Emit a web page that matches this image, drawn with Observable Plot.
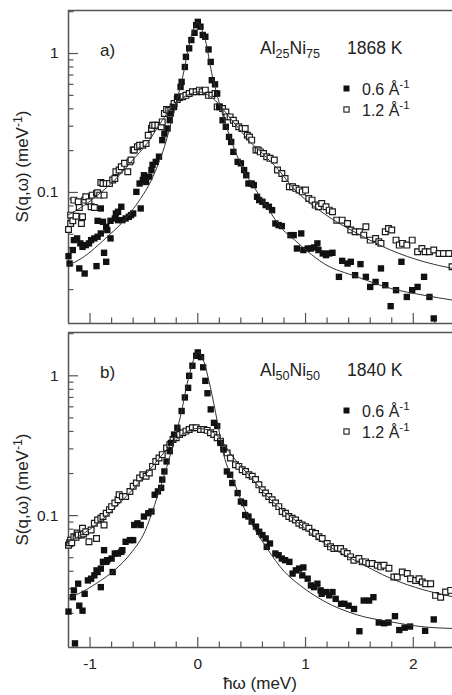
<!DOCTYPE html>
<html>
<head>
<meta charset="utf-8">
<script src="https://cdn.jsdelivr.net/npm/d3@7"></script>
<script src="https://cdn.jsdelivr.net/npm/@observablehq/plot@0.6"></script>
<style>
  body { margin: 0; background: #fff; }
  #chart { width: 452px; height: 695px; position: relative; background: #fff; }
  #chart svg { display: block; }
</style>
</head>
<body>
<div id="chart"></div>
<script>
// ---------- axes / tick data ----------
const xDomain = [-1.2, 2.364];
const yDomain = [0.0114, 2.04];
const xMajorTicks = [-1, 0, 1, 2];
const xTickLabels = ["-1", "0", "1", "2"];
const xMinorTicks = [-0.8, -0.6, -0.4, -0.2, 0.2, 0.4, 0.6, 0.8, 1.2, 1.4, 1.6, 1.8, 2.2];
const yMajorTicks = [0.1, 1];
const yTickLabels = ["0.1", "1"];
const yMinorTicks = [0.02, 0.03, 0.04, 0.05, 0.06, 0.07, 0.08, 0.09, 0.2, 0.3, 0.4, 0.5, 0.6, 0.7, 0.8, 0.9, 2];

// ---------- panel a) Al25Ni75 1868 K ----------
const a06 = [[-1.20,0.0348],[-1.19,0.0308],[-1.16,0.0385],[-1.15,0.0454],[-1.12,0.0467],[-1.10,0.0284],[-1.09,0.043],[-1.07,0.0406],[-1.05,0.0261],[-1.04,0.0418],[-1.01,0.043],[-0.99,0.0454],[-0.96,0.0467],[-0.94,0.0295],[-0.93,0.048],[-0.93,0.0625],[-0.90,0.0507],[-0.90,0.0767],[-0.88,0.0615],[-0.87,0.0368],[-0.85,0.0317],[-0.85,0.0566],[-0.84,0.0536],[-0.81,0.0467],[-0.81,0.0625],[-0.77,0.065],[-0.76,0.0706],[-0.74,0.0726],[-0.74,0.0632],[-0.71,0.0789],[-0.70,0.0632],[-0.67,0.065],[-0.64,0.0668],[-0.62,0.0687],[-0.60,0.0706],[-0.57,0.101],[-0.54,0.116],[-0.53,0.0767],[-0.51,0.123],[-0.50,0.133],[-0.48,0.119],[-0.45,0.130],[-0.43,0.145],[-0.42,0.158],[-0.39,0.166],[-0.36,0.181],[-0.33,0.238],[-0.31,0.265],[-0.28,0.289],[-0.26,0.331],[-0.25,0.37],[-0.22,0.413],[-0.19,0.488],[-0.16,0.575],[-0.15,0.625],[-0.12,0.80],[-0.11,0.946],[-0.08,1.09],[-0.06,1.25],[-0.03,1.41],[-0.015,1.60],[0.0,1.69],[0.025,1.56],[0.046,1.36],[0.07,1.32],[0.10,1.07],[0.12,0.87],[0.13,0.643],[0.16,0.60],[0.18,0.515],[0.20,0.413],[0.23,0.331],[0.26,0.297],[0.29,0.251],[0.31,0.231],[0.33,0.196],[0.37,0.166],[0.40,0.162],[0.43,0.145],[0.45,0.133],[0.47,0.116],[0.50,0.116],[0.52,0.113],[0.55,0.0931],[0.57,0.0881],[0.60,0.0857],[0.63,0.0811],[0.66,0.0789],[0.69,0.0746],[0.72,0.0598],[0.75,0.0582],[0.78,0.0573],[0.86,0.0493],[0.89,0.0493],[0.92,0.0395],[0.96,0.0507],[0.98,0.0385],[1.02,0.0395],[1.05,0.0395],[1.08,0.0402],[1.11,0.043],[1.12,0.0385],[1.16,0.0364],[1.19,0.0354],[1.22,0.0364],[1.25,0.0368],[1.31,0.0247],[1.34,0.0322],[1.39,0.0308],[1.42,0.0317],[1.46,0.0254],[1.51,0.0305],[1.56,0.0247],[1.60,0.0209],[1.65,0.0227],[1.70,0.0284],[1.74,0.0215],[1.79,0.0152],[1.84,0.0198],[1.89,0.0317],[1.94,0.0177],[1.99,0.0198],[2.04,0.0209],[2.10,0.0247],[2.15,0.0177],[2.19,0.0124]];

const a12 = [[-1.20,0.0542],[-1.18,0.0598],[-1.18,0.0687],[-1.16,0.0625],[-1.15,0.0881],[-1.13,0.0675],[-1.11,0.0857],[-1.10,0.078],[-1.08,0.0598],[-1.07,0.0668],[-1.05,0.0881],[-1.04,0.0931],[-1.01,0.0857],[-0.99,0.0789],[-0.98,0.0957],[-0.96,0.078],[-0.94,0.0985],[-0.93,0.0995],[-0.91,0.0957],[-0.90,0.118],[-0.88,0.116],[-0.87,0.0957],[-0.85,0.116],[-0.82,0.116],[-0.79,0.123],[-0.77,0.126],[-0.76,0.141],[-0.73,0.145],[-0.71,0.153],[-0.68,0.162],[-0.65,0.141],[-0.63,0.166],[-0.62,0.171],[-0.60,0.202],[-0.59,0.202],[-0.56,0.213],[-0.54,0.219],[-0.51,0.219],[-0.48,0.225],[-0.46,0.258],[-0.43,0.289],[-0.42,0.305],[-0.40,0.305],[-0.37,0.305],[-0.34,0.297],[-0.33,0.322],[-0.31,0.37],[-0.29,0.395],[-0.27,0.391],[-0.25,0.391],[-0.23,0.413],[-0.22,0.437],[-0.19,0.467],[-0.17,0.483],[-0.14,0.488],[-0.11,0.50],[-0.08,0.515],[-0.05,0.53],[-0.015,0.53],[0.015,0.545],[0.04,0.53],[0.07,0.545],[0.10,0.50],[0.13,0.50],[0.16,0.515],[0.18,0.413],[0.20,0.413],[0.23,0.402],[0.26,0.38],[0.27,0.35],[0.30,0.35],[0.33,0.331],[0.35,0.313],[0.38,0.297],[0.41,0.289],[0.44,0.289],[0.46,0.258],[0.48,0.251],[0.50,0.238],[0.54,0.202],[0.56,0.202],[0.58,0.196],[0.61,0.191],[0.64,0.181],[0.67,0.176],[0.71,0.171],[0.74,0.145],[0.78,0.137],[0.81,0.126],[0.85,0.110],[0.88,0.110],[0.91,0.107],[0.94,0.104],[0.97,0.101],[1.00,0.104],[1.03,0.0906],[1.06,0.0881],[1.09,0.0811],[1.12,0.0789],[1.15,0.0834],[1.19,0.0789],[1.22,0.0746],[1.25,0.0726],[1.29,0.0632],[1.34,0.0632],[1.39,0.0598],[1.42,0.0536],[1.46,0.0521],[1.50,0.0521],[1.54,0.0493],[1.56,0.0566],[1.60,0.0454],[1.65,0.0467],[1.68,0.0442],[1.70,0.043],[1.74,0.0521],[1.77,0.0551],[1.80,0.0536],[1.84,0.0454],[1.87,0.0418],[1.90,0.043],[1.94,0.0418],[1.99,0.0454],[2.04,0.0374],[2.08,0.0395],[2.11,0.0374],[2.15,0.0374],[2.19,0.0385],[2.24,0.0364],[2.28,0.0364],[2.33,0.0364],[2.36,0.0292]];

const aFit06 = [[-1.20,0.030],[-1.08,0.0335],[-0.96,0.0395],[-0.84,0.048],[-0.71,0.0598],[-0.62,0.0726],[-0.53,0.0906],[-0.43,0.123],[-0.37,0.158],[-0.31,0.213],[-0.25,0.313],[-0.19,0.475],[-0.14,0.68],[-0.09,1.06],[-0.05,1.43],[0,1.69],[0.025,1.56],[0.07,1.25],[0.13,0.718],[0.21,0.413],[0.32,0.225],[0.41,0.153],[0.54,0.104],[0.66,0.0746],[0.78,0.055],[0.91,0.0447],[1.02,0.0376],[1.17,0.0308],[1.48,0.0247],[1.79,0.0204],[2.10,0.0182],[2.364,0.0168]];

const aFit12 = [[-1.20,0.069],[-1.05,0.0811],[-0.93,0.0957],[-0.77,0.123],[-0.62,0.166],[-0.46,0.231],[-0.34,0.322],[-0.25,0.402],[-0.15,0.475],[-0.06,0.515],[0,0.53],[0.07,0.515],[0.16,0.461],[0.23,0.402],[0.29,0.35],[0.38,0.289],[0.47,0.238],[0.60,0.191],[0.75,0.145],[0.88,0.109],[1.17,0.0706],[1.48,0.0507],[1.79,0.0385],[2.10,0.0317],[2.364,0.0284]];

// ---------- panel b) Al50Ni50 1840 K ----------
const b06 = [[-1.20,0.0206],[-1.16,0.0261],[-1.15,0.0292],[-1.14,0.0122],[-1.11,0.0326],[-1.10,0.0227],[-1.07,0.0209],[-1.05,0.0276],[-1.02,0.0344],[-0.99,0.0354],[-0.96,0.0374],[-0.94,0.0406],[-0.93,0.0395],[-0.90,0.0308],[-0.90,0.0418],[-0.88,0.0467],[-0.87,0.0566],[-0.85,0.0467],[-0.84,0.048],[-0.80,0.0493],[-0.79,0.0395],[-0.77,0.0536],[-0.74,0.0536],[-0.71,0.0551],[-0.70,0.0566],[-0.67,0.065],[-0.63,0.0668],[-0.60,0.0668],[-0.59,0.0857],[-0.56,0.0881],[-0.53,0.0857],[-0.50,0.0985],[-0.46,0.104],[-0.43,0.107],[-0.40,0.141],[-0.37,0.149],[-0.34,0.158],[-0.33,0.181],[-0.31,0.207],[-0.29,0.244],[-0.26,0.289],[-0.25,0.331],[-0.22,0.38],[-0.19,0.425],[-0.15,0.56],[-0.12,0.70],[-0.09,0.82],[-0.08,1.0],[-0.05,1.18],[-0.015,1.39],[0.0,1.47],[0.03,1.36],[0.05,1.15],[0.07,0.92],[0.09,0.75],[0.12,0.575],[0.15,0.461],[0.18,0.437],[0.21,0.331],[0.24,0.297],[0.27,0.207],[0.30,0.196],[0.32,0.171],[0.37,0.145],[0.40,0.126],[0.43,0.123],[0.44,0.101],[0.47,0.0985],[0.50,0.0906],[0.54,0.0834],[0.57,0.0767],[0.60,0.0726],[0.63,0.0687],[0.64,0.0598],[0.67,0.0632],[0.72,0.0536],[0.75,0.0521],[0.78,0.0493],[0.81,0.048],[0.85,0.0467],[0.88,0.0385],[0.91,0.0406],[0.94,0.0418],[0.97,0.0374],[0.98,0.0426],[1.02,0.0354],[1.05,0.0317],[1.08,0.0308],[1.11,0.0326],[1.14,0.0292],[1.15,0.0276],[1.19,0.0284],[1.22,0.0269],[1.25,0.0284],[1.28,0.0254],[1.33,0.0234],[1.36,0.0234],[1.40,0.0227],[1.45,0.0215],[1.50,0.0149],[1.54,0.0247],[1.59,0.0247],[1.63,0.0261],[1.68,0.0172],[1.73,0.017],[1.77,0.0172],[1.83,0.0191],[1.87,0.0152],[1.92,0.0158],[1.97,0.0161],[2.11,0.0150],[2.19,0.0181]];

const b12 = [[-1.20,0.0615],[-1.19,0.064],[-1.18,0.0668],[-1.17,0.064],[-1.15,0.0706],[-1.13,0.070],[-1.12,0.075],[-1.11,0.0726],[-1.08,0.0726],[-1.07,0.0811],[-1.06,0.074],[-1.04,0.0767],[-1.01,0.065],[-0.99,0.0789],[-0.96,0.0881],[-0.94,0.0687],[-0.93,0.0931],[-0.90,0.0957],[-0.88,0.0985],[-0.87,0.0857],[-0.85,0.104],[-0.82,0.110],[-0.80,0.116],[-0.77,0.123],[-0.74,0.130],[-0.73,0.141],[-0.70,0.137],[-0.67,0.137],[-0.63,0.149],[-0.60,0.162],[-0.57,0.171],[-0.54,0.186],[-0.51,0.196],[-0.48,0.191],[-0.45,0.202],[-0.42,0.225],[-0.39,0.244],[-0.36,0.258],[-0.33,0.273],[-0.29,0.305],[-0.26,0.322],[-0.23,0.35],[-0.20,0.36],[-0.17,0.38],[-0.14,0.391],[-0.11,0.402],[-0.08,0.413],[-0.05,0.425],[-0.015,0.425],[0.025,0.413],[0.056,0.413],[0.087,0.407],[0.118,0.391],[0.149,0.38],[0.180,0.36],[0.211,0.341],[0.241,0.305],[0.272,0.281],[0.303,0.258],[0.350,0.231],[0.381,0.225],[0.412,0.213],[0.443,0.207],[0.474,0.196],[0.505,0.191],[0.536,0.181],[0.567,0.166],[0.598,0.153],[0.628,0.145],[0.659,0.137],[0.690,0.130],[0.721,0.123],[0.752,0.116],[0.783,0.107],[0.814,0.104],[0.845,0.0985],[0.876,0.0957],[0.907,0.0931],[0.938,0.0881],[0.969,0.0857],[1.000,0.0834],[1.031,0.0811],[1.062,0.0760],[1.093,0.0746],[1.124,0.0706],[1.155,0.0687],[1.201,0.0632],[1.232,0.0598],[1.263,0.0582],[1.294,0.0582],[1.325,0.0582],[1.356,0.0551],[1.387,0.0536],[1.418,0.0507],[1.449,0.0480],[1.495,0.0493],[1.526,0.0467],[1.557,0.0467],[1.588,0.0454],[1.619,0.0454],[1.666,0.0442],[1.697,0.043],[1.728,0.0442],[1.774,0.0420],[1.820,0.0364],[1.851,0.0364],[1.898,0.0395],[1.944,0.0385],[1.975,0.0354],[2.022,0.0344],[2.053,0.0354],[2.084,0.0335],[2.115,0.0326],[2.161,0.0326],[2.207,0.0269],[2.254,0.0261],[2.300,0.0284],[2.347,0.0292]];

const bFit06 = [[-1.20,0.0255],[-1.05,0.0291],[-0.93,0.0332],[-0.77,0.0409],[-0.62,0.054],[-0.49,0.0773],[-0.40,0.12],[-0.33,0.176],[-0.25,0.28],[-0.20,0.39],[-0.15,0.56],[-0.11,0.80],[-0.06,1.15],[-0.025,1.39],[0,1.47],[0.025,1.43],[0.118,0.82],[0.18,0.475],[0.241,0.273],[0.334,0.176],[0.458,0.101],[0.644,0.0582],[0.80,0.040],[0.95,0.0317],[1.17,0.0245],[1.48,0.0195],[1.79,0.0174],[2.10,0.016],[2.364,0.0156]];

const bFit12 = [[-1.20,0.065],[-1.0,0.08],[-0.8,0.108],[-0.6,0.155],[-0.4,0.235],[-0.3,0.29],[-0.2,0.35],[-0.1,0.40],[0,0.42],[0.1,0.41],[0.2,0.36],[0.3,0.28],[0.4,0.225],[0.5,0.185],[0.6,0.150],[0.7,0.125],[0.86,0.0989],[1.17,0.0636],[1.48,0.047],[1.79,0.0356],[2.10,0.0294],[2.364,0.0263]];

// ---------- text ----------
const panels = [
  {tag: "a)", alloy: [["Al"], ["25", "sub"], ["Ni"], ["75", "sub"]], temp: "1868 K",
   s06: a06, s12: a12, f06: aFit06, f12: aFit12},
  {tag: "b)", alloy: [["Al"], ["50", "sub"], ["Ni"], ["50", "sub"]], temp: "1840 K",
   s06: b06, s12: b12, f06: bFit06, f12: bFit12}
];
const legendLabels = [[["0.6 Å"], ["-1", "sup"]], [["1.2 Å"], ["-1", "sup"]]];
const yLabel = [["S(q,ω) (meV"], ["-1", "sup"], [")"]];
const xLabel = "ħω (meV)";

const FONT = "'Liberation Sans', Arial, Helvetica, sans-serif";
const INK = "#222";
const FRAME = "#555";
const W = 452, ML = 68, MR = 0;

function rich(svg, x, y, parts, {size = 17, anchor = "start", rotate = null} = {}) {
  const t = d3.select(svg).append("text")
    .attr("x", x).attr("y", y)
    .attr("font-size", size).attr("font-family", FONT)
    .attr("fill", INK).attr("text-anchor", anchor);
  if (rotate !== null) t.attr("transform", `rotate(${rotate} ${x} ${y})`);
  let shift = 0;
  for (const [txt, kind] of parts) {
    const target = kind === "sub" ? 4 : kind === "sup" ? -6.5 : 0;
    t.append("tspan")
      .attr("dy", target - shift)
      .attr("font-size", kind ? size * 0.72 : size)
      .text(txt);
    shift = target;
  }
}

function panel(p, {height, marginTop, marginBottom, showX}) {
  const ph = height - marginTop - marginBottom;
  const pw = W - ML - MR;
  const xy = {x: d => d[0], y: d => d[1]};
  const marks = [
    // frame: left, top, bottom
    Plot.ruleX([xDomain[0]], {stroke: FRAME, strokeWidth: 1.5}),
    Plot.ruleY([yDomain[0]], {stroke: FRAME, strokeWidth: 1.5}),
    Plot.ruleY([yDomain[1]], {stroke: FRAME, strokeWidth: 1.5}),
    // inward ticks
    Plot.tickY(yMajorTicks, {y: d => d, insetRight: pw - 10, stroke: FRAME, strokeWidth: 1.2}),
    Plot.tickY(yMinorTicks, {y: d => d, insetRight: pw - 5.5, stroke: FRAME, strokeWidth: 1.2}),
    Plot.tickX(xMajorTicks, {x: d => d, insetTop: ph - 10, stroke: FRAME, strokeWidth: 1.2}),
    Plot.tickX(xMinorTicks, {x: d => d, insetTop: ph - 5.5, stroke: FRAME, strokeWidth: 1.2}),
    Plot.axisY(yMajorTicks, {tickSize: 0, tickPadding: 10, fontSize: 15.5, label: null,
      tickFormat: d => yTickLabels[yMajorTicks.indexOf(d)]}),
    // data
    Plot.dot(p.s12, {...xy, symbol: "square", r: 3.25, fill: "white", stroke: "#1a1a1a", strokeWidth: 1.2}),
    Plot.dot(p.s06, {...xy, symbol: "square", r: 3.6, fill: "#111", stroke: "none"}),
    Plot.line(p.f06, {...xy, stroke: "#333", strokeWidth: 1, curve: "monotone-x"}),
    Plot.line(p.f12, {...xy, stroke: "#333", strokeWidth: 1, curve: "monotone-x"})
  ];
  if (showX) {
    marks.push(Plot.axisX(xMajorTicks, {tickSize: 0, tickPadding: 10, fontSize: 15.5, label: null,
      tickFormat: d => xTickLabels[xMajorTicks.indexOf(d)]}));
  }
  const svg = Plot.plot({
    width: W, height, marginLeft: ML, marginRight: MR, marginTop, marginBottom,
    style: {fontFamily: FONT, fontSize: "15.5px", color: INK, background: "white"},
    x: {domain: xDomain, axis: showX ? undefined : null},
    y: {type: "log", domain: yDomain},
    marks
  });
  const top = marginTop;
  rich(svg, 100, top + 46, [[p.tag]], {size: 17});
  rich(svg, 260, top + 44, p.alloy, {size: 17.5});
  rich(svg, 347, top + 44, [[p.temp]], {size: 17.5});
  const g = d3.select(svg);
  g.append("rect").attr("x", 346.5 - 3).attr("y", top + 78.5 - 3).attr("width", 6).attr("height", 6).attr("fill", "#111");
  g.append("rect").attr("x", 346.5 - 2.6).attr("y", top + 99.5 - 2.6).attr("width", 5.2).attr("height", 5.2)
    .attr("fill", "white").attr("stroke", "#1a1a1a").attr("stroke-width", 1.1);
  rich(svg, 362, top + 84.5, legendLabels[0], {size: 16});
  rich(svg, 362, top + 105.5, legendLabels[1], {size: 16});
  rich(svg, 28, top + ph / 2, yLabel, {size: 17, anchor: "middle", rotate: -90});
  if (showX) {
    rich(svg, ML + pw / 2, height - 6, [[xLabel]], {size: 17, anchor: "middle"});
  }
  return svg;
}

const chart = document.getElementById("chart");
chart.append(panel(panels[0], {height: 328, marginTop: 10, marginBottom: 5, showX: false}));
chart.append(panel(panels[1], {height: 367, marginTop: 4, marginBottom: 48, showX: true}));
</script>
</body>
</html>
